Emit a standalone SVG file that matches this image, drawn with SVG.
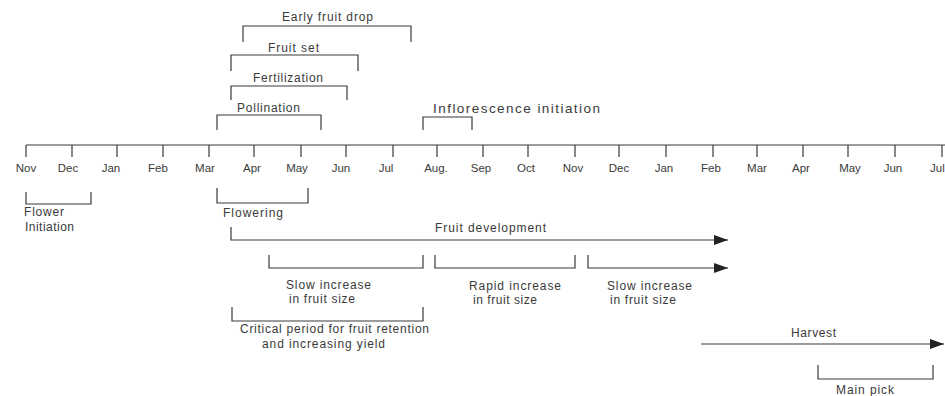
<svg xmlns="http://www.w3.org/2000/svg" width="945" height="396" viewBox="0 0 945 396">
<style>
.ln{fill:none;stroke:#3a3a3a;stroke-width:1.2}
.t{font-family:"Liberation Sans",Arial,sans-serif;font-size:12px;fill:#3a3a3a}
.m{font-family:"Liberation Sans",Arial,sans-serif;font-size:11.5px;fill:#3a3a3a;text-anchor:middle}
</style>
<defs>
<marker id="ah" markerUnits="userSpaceOnUse" markerWidth="15" markerHeight="11" refX="14" refY="5" orient="auto">
<path d="M0,0 L14,5 L0,10 Z" fill="#222"/>
</marker>
</defs>
<rect width="945" height="396" fill="#fff"/>

<g id="axis">
<path class="ln" d="M26,145 H945 M26,145 V157 M72,145 V157 M117,145 V157 M163,145 V157 M209,145 V157 M254,145 V157 M301,145 V157 M346,145 V157 M393,145 V157 M437,145 V157 M483,145 V157 M528,145 V157 M575,145 V157 M619,145 V157 M666,145 V157 M713,145 V157 M757,145 V157 M803,145 V157 M848,145 V157 M895,145 V157 M942,145 V157"/>
<text class="m" x="26" y="172">Nov</text>
<text class="m" x="68" y="172">Dec</text>
<text class="m" x="111" y="172">Jan</text>
<text class="m" x="158" y="172">Feb</text>
<text class="m" x="205" y="172">Mar</text>
<text class="m" x="252" y="172">Apr</text>
<text class="m" x="297" y="172">May</text>
<text class="m" x="341" y="172">Jun</text>
<text class="m" x="386" y="172">Jul</text>
<text class="m" x="436" y="172">Aug.</text>
<text class="m" x="481" y="172">Sep</text>
<text class="m" x="526" y="172">Oct</text>
<text class="m" x="573" y="172">Nov</text>
<text class="m" x="619" y="172">Dec</text>
<text class="m" x="664" y="172">Jan</text>
<text class="m" x="711" y="172">Feb</text>
<text class="m" x="757" y="172">Mar</text>
<text class="m" x="801" y="172">Apr</text>
<text class="m" x="850" y="172">May</text>
<text class="m" x="893" y="172">Jun</text>
<text class="m" x="930" y="172" style="text-anchor:start">Jul</text>
</g>

<g id="early-fruit-drop">
<path class="ln" d="M243,42 V26 H411 V42"/>
<text class="t" x="282" y="21" textLength="91" lengthAdjust="spacing">Early fruit drop</text>
</g>
<g id="fruit-set">
<path class="ln" d="M231,71 V55 H358 V71"/>
<text class="t" x="268" y="52" textLength="51" lengthAdjust="spacing">Fruit set</text>
</g>
<g id="fertilization">
<path class="ln" d="M231,100 V86 H347 V100"/>
<text class="t" x="253" y="82" textLength="70" lengthAdjust="spacing">Fertilization</text>
</g>
<g id="pollination">
<path class="ln" d="M217,130 V115 H321 V130"/>
<text class="t" x="237" y="112" textLength="63" lengthAdjust="spacing">Pollination</text>
</g>
<g id="inflorescence-initiation">
<path class="ln" d="M423,130 V117 H472 V130"/>
<text class="t" x="433" y="113" style="font-size:13.5px" textLength="167" lengthAdjust="spacing">Inflorescence initiation</text>
</g>

<g id="flower-initiation">
<path class="ln" d="M26,192 V204 H91 V192"/>
<text class="t" x="24" y="216" textLength="40" lengthAdjust="spacing">Flower</text>
<text class="t" x="25" y="231" textLength="49" lengthAdjust="spacing">Initiation</text>
</g>
<g id="flowering">
<path class="ln" d="M217,188 V203 H308 V188"/>
<text class="t" x="223" y="217" textLength="60" lengthAdjust="spacing">Flowering</text>
</g>
<g id="fruit-development">
<text class="t" x="435" y="232" textLength="111" lengthAdjust="spacing">Fruit development</text>
</g>
<g id="slow-increase-1">
<path class="ln" d="M269,255 V268 H423 V255"/>
<text class="t" x="286" y="289" textLength="85" lengthAdjust="spacing">Slow increase</text>
<text class="t" x="289" y="303" textLength="66" lengthAdjust="spacing">in fruit size</text>
</g>
<g id="rapid-increase">
<path class="ln" d="M435,255 V268 H575 V255"/>
<text class="t" x="469" y="290" textLength="92" lengthAdjust="spacing">Rapid increase</text>
<text class="t" x="473" y="304" textLength="64" lengthAdjust="spacing">in fruit size</text>
</g>
<g id="slow-increase-2">
<text class="t" x="607" y="290" textLength="85" lengthAdjust="spacing">Slow increase</text>
<text class="t" x="610" y="304" textLength="66" lengthAdjust="spacing">in fruit size</text>
</g>
<g id="critical-period">
<path class="ln" d="M232,307 V321 H423 V307"/>
<text class="t" x="240" y="333" textLength="189" lengthAdjust="spacing">Critical period for fruit retention</text>
<text class="t" x="262" y="348" textLength="123" lengthAdjust="spacing">and increasing yield</text>
</g>
<g id="harvest">
<text class="t" x="791" y="337" textLength="45" lengthAdjust="spacing">Harvest</text>
</g>
<g id="main-pick">
<path class="ln" d="M818,365 V379 H933 V365"/>
<text class="t" x="836" y="394" textLength="58" lengthAdjust="spacing">Main pick</text>
</g>

<g id="connectors">
<path class="ln" d="M231,227 V240 H728" marker-end="url(#ah)"/>
<path class="ln" d="M588,255 V268 H728" marker-end="url(#ah)"/>
<path class="ln" d="M701,344 H944" marker-end="url(#ah)"/>
</g>
</svg>
